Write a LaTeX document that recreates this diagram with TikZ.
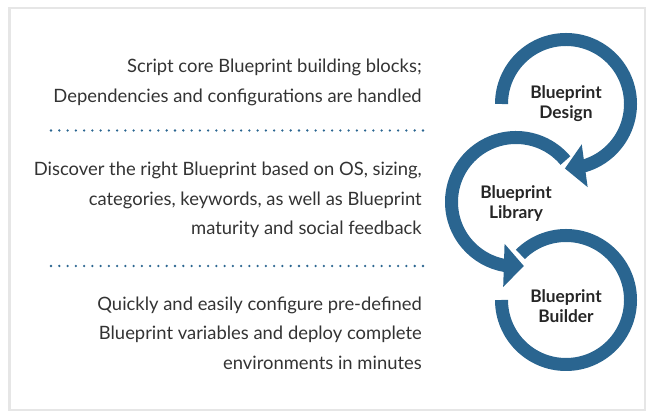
\documentclass[tikz,border=0pt]{standalone}
\usepackage{fontspec}
\setmainfont{Lato}
\usetikzlibrary{arrows.meta,bending}
\definecolor{ringblue}{HTML}{2A6590}
\definecolor{textgray}{HTML}{333333}
\definecolor{framegray}{HTML}{E6E6E6}
\tikzstyle{stage} = [text centered, align=center, font=\bfseries\fontsize{13}{15}\selectfont, text=black!85]
\tikzstyle{blurb} = [anchor=east, align=right, inner sep=0pt, font=\fontsize{13.8}{22.1}\selectfont, text=textgray]
\tikzstyle{ring} = [draw=ringblue, line width=9.75pt]
\tikzstyle{ringarrow} = [ring, -{Triangle[width=31.5pt,length=15pt]}]
\tikzstyle{divider} = [draw=ringblue, line width=1.9pt, line cap=round, dash pattern=on 0pt off 6.2pt]

\begin{document}
\begin{tikzpicture}[x=0.75pt, y=0.75pt, node distance=73.5pt]
    \useasboundingbox (0,0) rectangle (649,413);
    \draw [framegray, line width=1.9pt] (9.5,3) rectangle (645,405);

    \node (design) [stage] at (566,309) {Blueprint\\Design};
    \node (library) [stage, below of=design, xshift=-37.5pt, yshift=-1.5pt] {Blueprint\\Library};
    \node (builder) [stage, below of=library, xshift=37.5pt, yshift=-3pt] {Blueprint\\Builder};

    \draw [ringarrow] (design.center) ++(180:64.5) arc [start angle=180, end angle=-91, radius=64.5];
    \draw [ringarrow] ([yshift=1.5pt]library.center) ++(40:64.5) arc [start angle=40, end angle=277, radius=64.5];
    \draw [ring] ([yshift=4.5pt]builder.center) ++(180:64.5) arc [start angle=180, end angle=495, radius=64.5];

    \node (designtext) [blurb] at (422,330.5) {Script core Blueprint building blocks;\\Dependencies and configurations are handled};
    \node (librarytext) [blurb] at (422,213) {Discover the right Blueprint based on OS, sizing,\\categories, keywords, as well as Blueprint\\maturity and social feedback};
    \node (buildertext) [blurb] at (422,80) {Quickly and easily configure pre-defined\\Blueprint variables and deploy complete\\environments in minutes};

    \coordinate (rule1a) at (51,282.5);
    \coordinate (rule1b) at (423,282.5);
    \coordinate (rule2a) at (51,147);
    \coordinate (rule2b) at (423,147);
    \draw [divider] (rule1a) -- (rule1b);
    \draw [divider] (rule2a) -- (rule2b);
\end{tikzpicture}
\end{document}
